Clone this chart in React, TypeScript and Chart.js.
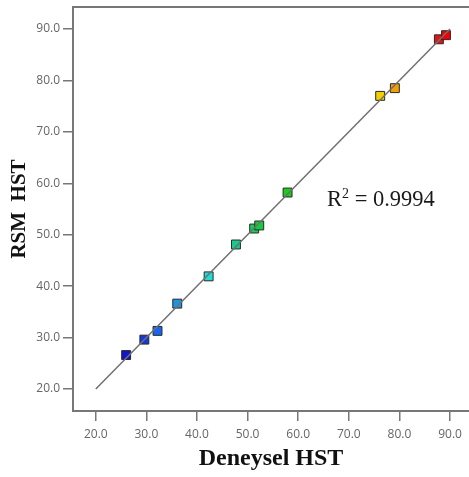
import React, { useEffect, useRef } from "react";
import { Chart, registerables } from "chart.js";

Chart.register(...registerables);

// Experimental (Deneysel) vs predicted (RSM) HST values
const experimental = [26.0, 29.6, 32.2, 36.1, 42.3, 47.7, 51.3, 52.3, 57.9, 76.2, 79.1, 87.8, 89.2];
const predicted = [26.6, 29.6, 31.3, 36.6, 41.9, 48.1, 51.2, 51.8, 58.2, 77.0, 78.5, 88.0, 88.8];
const pointColors = [
  "#1414c8", "#1438d8", "#1866f0", "#1a96e0", "#22dcd6", "#14cc90",
  "#14d058", "#14cc44", "#18d018", "#f2d000", "#f0a000", "#e01414", "#f00000",
];
const fitLine = [20, 90];
const tickValues = [20, 30, 40, 50, 60, 70, 80, 90];
const xRange = [15.5, 93.75];
const yRange = [15.72, 94.28];
const r2Text = { label: "0.9994", x: 65.7, y: 55.6 };

const annotationPlugin = {
  id: "annot",
  afterDatasetsDraw(chart: any) {
    const { ctx, chartArea, scales } = chart;
    ctx.save();
    // top frame line
    ctx.strokeStyle = "#777777";
    ctx.lineWidth = 2;
    ctx.beginPath();
    ctx.moveTo(chartArea.left - 1, chartArea.top);
    ctx.lineTo(chartArea.right, chartArea.top);
    ctx.stroke();
    // R² text
    const px = scales.x.getPixelForValue(r2Text.x);
    const py = scales.y.getPixelForValue(r2Text.y);
    ctx.fillStyle = "#1a1a1a";
    ctx.textBaseline = "alphabetic";
    ctx.textAlign = "left";
    ctx.font = '22.5px "Liberation Serif"';
    ctx.fillText("R", px, py);
    let w = ctx.measureText("R").width;
    ctx.font = '14px "Liberation Serif"';
    ctx.fillText("2", px + w, py - 8);
    w += ctx.measureText("2").width;
    ctx.font = '22.5px "Liberation Serif"';
    ctx.fillText(" = " + r2Text.label, px + w, py);
    ctx.restore();
  },
};

export default function App() {
  const ref = useRef<HTMLCanvasElement | null>(null);
  useEffect(() => {
    if (!ref.current) return;
    const tickFont = { family: '"Open Sans"', size: 12 };
    const makeTicks = (scale: any) => {
      scale.ticks = tickValues.map((v) => ({ value: v }));
    };
    const clearPad = (s: any) => {
      s.paddingLeft = 0;
      s.paddingRight = 0;
      s.paddingTop = 0;
      s.paddingBottom = 0;
    };
    const chart = new Chart(ref.current, {
      type: "scatter",
      data: {
        datasets: [
          {
            data: fitLine.map((v) => ({ x: v, y: v })),
            showLine: true,
            borderColor: "#707070",
            borderWidth: 1.5,
            pointRadius: 0,
          },
          {
            data: experimental.map((x, i) => ({ x, y: predicted[i] })),
            pointStyle: "rect",
            pointRadius: 6.3,
            backgroundColor: pointColors,
            borderColor: "#2a2a2a",
            borderWidth: 1,
          },
        ],
      },
      options: {
        animation: false,
        responsive: false,
        maintainAspectRatio: false,
        devicePixelRatio: 1,
        layout: { autoPadding: false, padding: { top: 7, right: 0, left: 0, bottom: 0 } },
        plugins: { legend: { display: false }, tooltip: { enabled: false } },
        scales: {
          x: {
            type: "linear",
            min: xRange[0],
            max: xRange[1],
            afterBuildTicks: makeTicks,
            afterFit: (s: any) => { s.height = 66; clearPad(s); },
            grid: { drawOnChartArea: false, drawTicks: true, tickLength: 10, color: "#777", lineWidth: 1.5 },
            border: { display: true, color: "#777", width: 2 },
            ticks: { font: tickFont, color: "#666", padding: 6, maxRotation: 0, callback: (v: any) => Number(v).toFixed(1) },
            title: {
              display: true,
              text: "Deneysel HST",
              font: { family: '"Liberation Serif"', size: 24, weight: "bold" },
              color: "#111",
              padding: { top: 0, bottom: 4 },
            },
          },
          y: {
            type: "linear",
            min: yRange[0],
            max: yRange[1],
            afterBuildTicks: makeTicks,
            afterFit: (s: any) => { s.width = 73; clearPad(s); },
            grid: { drawOnChartArea: false, drawTicks: true, tickLength: 10, color: "#777", lineWidth: 1.5 },
            border: { display: true, color: "#777", width: 2 },
            ticks: { font: tickFont, color: "#666", padding: 3, callback: (v: any) => Number(v).toFixed(1) },
            title: {
              display: true,
              text: "RSM  HST",
              font: { family: '"Liberation Serif"', size: 21, weight: "bold" },
              color: "#111",
              padding: { top: 7, bottom: 0 },
            },
          },
        },
      },
      plugins: [annotationPlugin],
    });
    return () => chart.destroy();
  }, []);
  return (
    <div style={{ position: "absolute", left: 0, top: 0, width: 469, height: 477 }}>
      <canvas ref={ref} width={469} height={477} style={{ display: "block", width: 469, height: 477 }} />
    </div>
  );
}
